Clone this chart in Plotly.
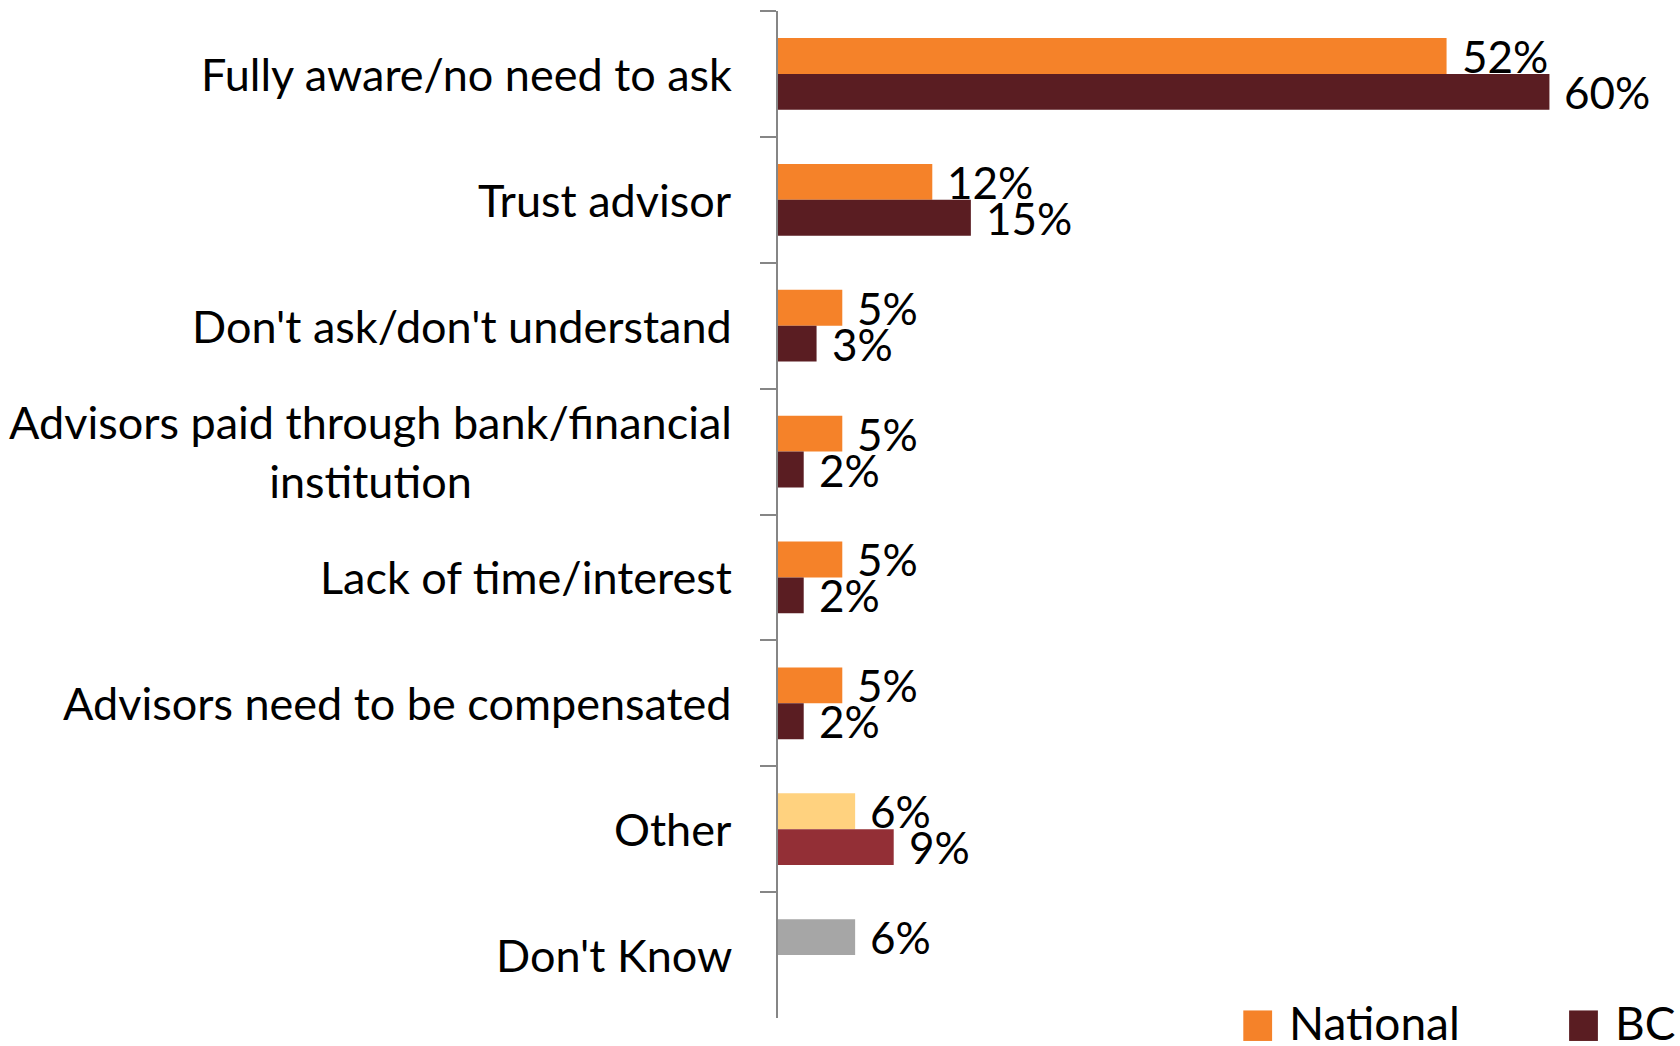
import plotly.graph_objects as go

# Survey responses: reasons for not asking about advisor compensation
categories = [
    "Fully aware/no need to ask",
    "Trust advisor",
    "Don't ask/don't understand",
    "Advisors paid through bank/financial<br>institution",
    "Lack of time/interest",
    "Advisors need to be compensated",
    "Other",
    "Don't Know",
]
national = [52, 12, 5, 5, 5, 5, 6, 6]
bc = [60, 15, 3, 2, 2, 2, 9, None]

national_colors = ["#F58229"] * 6 + ["#FFD27F", "#A6A6A6"]
bc_colors = ["#5A1D22"] * 6 + ["#932F36", "#5A1D22"]

FONT = "Lato"
LABEL_SIZE = 45
AXIS_COLOR = "#868686"

fig = go.Figure()
fig.add_trace(go.Bar(
    name="National", y=categories, x=national, orientation="h",
    marker=dict(color=national_colors, line=dict(width=0)),
    showlegend=False,
))
fig.add_trace(go.Bar(
    name="BC", y=categories, x=bc, orientation="h",
    marker=dict(color=bc_colors, line=dict(width=0)),
    showlegend=False,
))

# value labels just past the end of each bar
annotations = []
for series, shift in ((national, 18), (bc, -18)):
    for cat, val in zip(categories, series):
        if val is None:
            continue
        annotations.append(dict(
            x=val, y=cat, xref="x", yref="y", text=f"{val}%",
            showarrow=False, xanchor="left", yanchor="middle",
            xshift=13, yshift=shift,
            font=dict(family=FONT, size=44, color="#000000"),
        ))

# category labels, centred line by line and right-aligned to the axis
for cat in categories:
    annotations.append(dict(
        x=0, y=cat, xref="paper", yref="y", text=cat,
        showarrow=False, xanchor="right", yanchor="middle", align="center",
        xshift=-44,
        font=dict(family=FONT, size=LABEL_SIZE, color="#000000"),
    ))

# legend
legend_items = [("National", "#F58229", 0.517, 0.565), ("BC", "#5A1D22", 0.879, 0.928)]
shapes = []
for name, color, sx, tx in legend_items:
    shapes.append(dict(
        type="rect", xref="paper", yref="paper",
        x0=sx, x1=sx + 0.032, y0=0.0075, y1=-0.0228,
        fillcolor=color, line=dict(width=0),
    ))
    annotations.append(dict(
        x=tx, y=-0.004, xref="paper", yref="paper", text=name,
        showarrow=False, xanchor="left", yanchor="middle",
        font=dict(family=FONT, size=46, color="#000000"),
    ))

fig.update_layout(
    width=1680, height=1046,
    margin=dict(l=778, r=2, t=11, b=28),
    paper_bgcolor="white", plot_bgcolor="white",
    barmode="group", bargap=0.43, bargroupgap=0,
    showlegend=False,
    annotations=annotations, shapes=shapes,
    xaxis=dict(visible=False, range=[0, 70], fixedrange=True),
    yaxis=dict(
        type="category", autorange="reversed",
        showline=True, linecolor=AXIS_COLOR, linewidth=2,
        ticks="outside", ticklen=16, tickwidth=2, tickcolor=AXIS_COLOR,
        tickson="boundaries", showticklabels=False, showgrid=False,
        zeroline=False,
    ),
    font=dict(family=FONT),
)

fig.write_html("out.html")
